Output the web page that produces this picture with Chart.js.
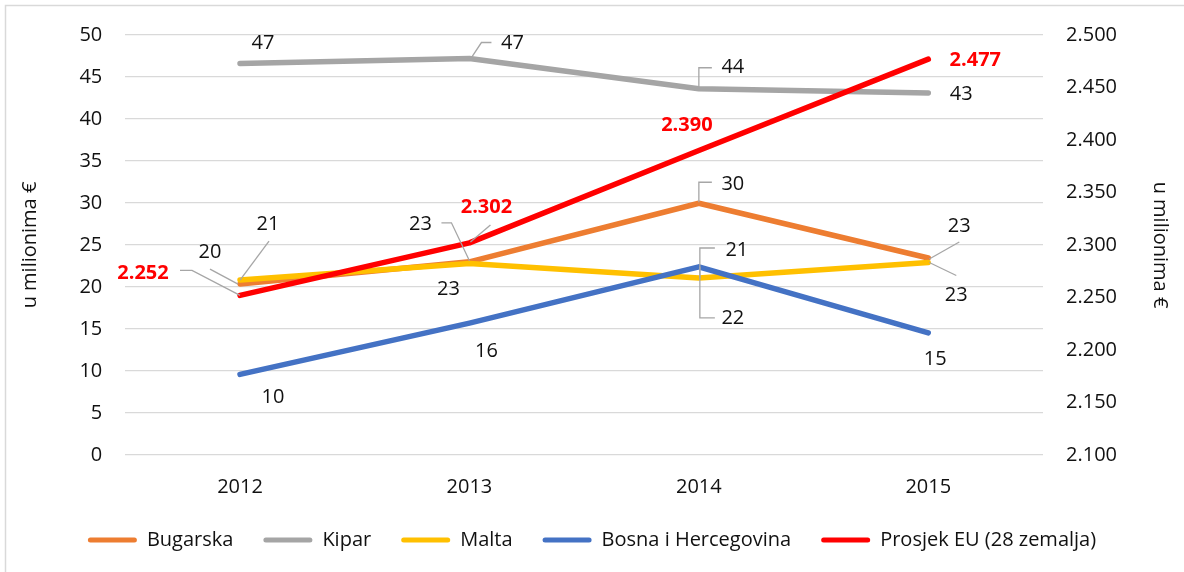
<!DOCTYPE html>
<html>
<head>
<meta charset="utf-8">
<script src="https://cdn.jsdelivr.net/npm/chart.js@4.4.1/dist/chart.umd.min.js"></script>
<style>
  html, body { margin: 0; padding: 0; background: #fff; }
  #wrap { width: 1184px; height: 572px; }
</style>
</head>
<body>
<div id="wrap"><canvas id="chart" width="1184" height="572"></canvas></div>
<script>
const years = ['2012', '2013', '2014', '2015'];
const bugarska = [20.35, 23.0, 29.97, 23.45];
const kipar = [46.6, 47.2, 43.6, 43.1];
const malta = [20.83, 22.8, 21.07, 22.92];
const bih = [9.6, 15.7, 22.4, 14.54];
const prosjekEU = [2.252, 2.302, 2.390, 2.477];
const leftTicks = [0, 5, 10, 15, 20, 25, 30, 35, 40, 45, 50];
const rightTicks = [2.1, 2.15, 2.2, 2.25, 2.3, 2.35, 2.4, 2.45, 2.5];

const FONT = "'Open Sans', 'Liberation Sans', sans-serif";

// where each value label sits relative to its point, plus optional leader line
const labelSpots = [
  [ {dx: -30, dy: -32, lead: [[-2, 0], [-30, -15]]},
    {dx: -49, dy: -38, lead: [[0, -1], [-18, -39], [-28, -39]]},
    {dx: 34, dy: -19, lead: [[0, -1], [0, -21], [13, -21]]},
    {dx: 31, dy: -32, lead: [[1, 1], [31, -16]]} ],
  [ {dx: 23, dy: -20},
    {dx: 43, dy: -15, lead: [[2, -1], [12, -16], [22, -16]]},
    {dx: 34, dy: -21, lead: [[0, -1], [0, -21], [13, -21]]},
    {dx: 33, dy: 1} ],
  [ {dx: 28, dy: -56, lead: [[0, 0], [29, -39]]},
    {dx: -21, dy: 26},
    {dx: 38, dy: -28, lead: [[1, 0], [1, -30], [16, -30]]},
    {dx: 28, dy: 33, lead: [[1, 0], [28, 13]]} ],
  [ {dx: 33, dy: 23},
    {dx: 17, dy: 28},
    {dx: 34, dy: 51, lead: [[1, 0], [1, 51], [16, 51]]},
    {dx: 7, dy: 26} ],
  [ {dx: -97, dy: -22, lead: [[0, 0], [-48, -25], [-60, -25]]},
    {dx: 17, dy: -36, lead: [[1, -1], [21, -18]]},
    {dx: -12, dy: -25},
    {dx: 47, dy: 1} ]
];

const valueLabels = {
  id: 'valueLabels',
  afterDatasetsDraw(chart) {
    const ctx = chart.ctx;
    ctx.save();
    chart.data.datasets.forEach((ds, i) => {
      const meta = chart.getDatasetMeta(i);
      meta.data.forEach((pt, j) => {
        const spot = labelSpots[i][j];
        if (spot.lead) {
          ctx.strokeStyle = '#A6A6A6';
          ctx.lineWidth = 1.3;
          ctx.beginPath();
          spot.lead.forEach(([lx, ly], k) => {
            if (k === 0) ctx.moveTo(pt.x + lx, pt.y + ly);
            else ctx.lineTo(pt.x + lx, pt.y + ly);
          });
          ctx.stroke();
        }
      });
    });
    chart.data.datasets.forEach((ds, i) => {
      const meta = chart.getDatasetMeta(i);
      const secondary = ds.yAxisID === 'y2';
      ctx.font = (secondary ? 'bold ' : '') + '20px ' + FONT;
      ctx.fillStyle = secondary ? '#FF0000' : '#111';
      ctx.textAlign = 'center';
      ctx.textBaseline = 'middle';
      meta.data.forEach((pt, j) => {
        const v = ds.data[j];
        const txt = secondary ? v.toFixed(3) : String(Math.round(v));
        const spot = labelSpots[i][j];
        ctx.fillText(txt, pt.x + spot.dx, pt.y + spot.dy);
      });
    });
    ctx.restore();
  }
};

const frame = {
  id: 'frame',
  beforeDraw(chart) {
    const ctx = chart.ctx;
    ctx.save();
    ctx.fillStyle = '#fff';
    ctx.fillRect(0, 0, chart.width, chart.height);
    ctx.strokeStyle = '#D9D9D9';
    ctx.lineWidth = 1.5;
    ctx.strokeRect(5.5, 5.5, chart.width + 20, chart.height + 20);
    ctx.restore();
  }
};

function series(label, data, color, order, axis) {
  return {
    label, data, order,
    yAxisID: axis || 'y',
    borderColor: color,
    backgroundColor: color,
    borderWidth: 5.5,
    borderCapStyle: 'round',
    borderJoinStyle: 'round',
    pointRadius: 0,
    tension: 0
  };
}

new Chart(document.getElementById('chart'), {
  type: 'line',
  data: {
    labels: years,
    datasets: [
      series('Bugarska', bugarska, '#ED7D31', 4),
      series('Kipar', kipar, '#A5A5A5', 3),
      series('Malta', malta, '#FFC000', 2),
      series('Bosna i Hercegovina', bih, '#4472C4', 1),
      series('Prosjek EU (28 zemalja)', prosjekEU, '#FF0000', 0, 'y2')
    ]
  },
  options: {
    responsive: false,
    animation: false,
    layout: { padding: { left: 6, right: 6, top: 34.7, bottom: 12 } },
    font: { family: FONT },
    plugins: {
      tooltip: { enabled: false },
      legend: {
        position: 'bottom',
        labels: {
          color: '#111',
          font: { family: FONT, size: 20 },
          boxWidth: 49,
          boxHeight: 5,
          padding: 30,
          useBorderRadius: true,
          borderRadius: 2.5,
          sort: (a, b) => a.datasetIndex - b.datasetIndex,
          generateLabels(chart) {
            const items = Chart.defaults.plugins.legend.labels.generateLabels(chart);
            items.forEach(it => { it.lineWidth = 0; it.fillStyle = it.strokeStyle; });
            return items;
          }
        }
      }
    },
    scales: {
      x: {
        offset: true,
        grid: { display: false },
        border: { display: false },
        ticks: { color: '#111', font: { family: FONT, size: 20 }, padding: 12 },
        afterFit(s) { s.height = 45; }
      },
      y: {
        position: 'left',
        min: 0, max: 50,
        afterBuildTicks(s) { s.ticks = leftTicks.map(v => ({ value: v })); },
        grid: { color: '#D9D9D9', lineWidth: 1.3, drawTicks: false },
        border: { display: false },
        ticks: { color: '#111', font: { family: FONT, size: 20 }, padding: 23 },
        title: {
          display: true, text: 'u milionima €', color: '#111',
          font: { family: FONT, size: 20 }, padding: { top: 12, bottom: 0 }
        },
        afterFit(s) { s.width = 119.3; }
      },
      y2: {
        position: 'right',
        min: 2.1, max: 2.5,
        afterBuildTicks(s) { s.ticks = rightTicks.map(v => ({ value: v })); },
        grid: { drawOnChartArea: false, drawTicks: false },
        border: { display: false },
        ticks: {
          color: '#111', font: { family: FONT, size: 20 }, padding: 23,
          callback: v => Number(v).toFixed(3)
        },
        title: {
          display: true, text: 'u milionima €', color: '#111',
          font: { family: FONT, size: 20 }, padding: { top: 6, bottom: 0 }
        },
        afterFit(s) { s.width = 135; }
      }
    }
  },
  plugins: [frame, valueLabels]
});
</script>
</body>
</html>
